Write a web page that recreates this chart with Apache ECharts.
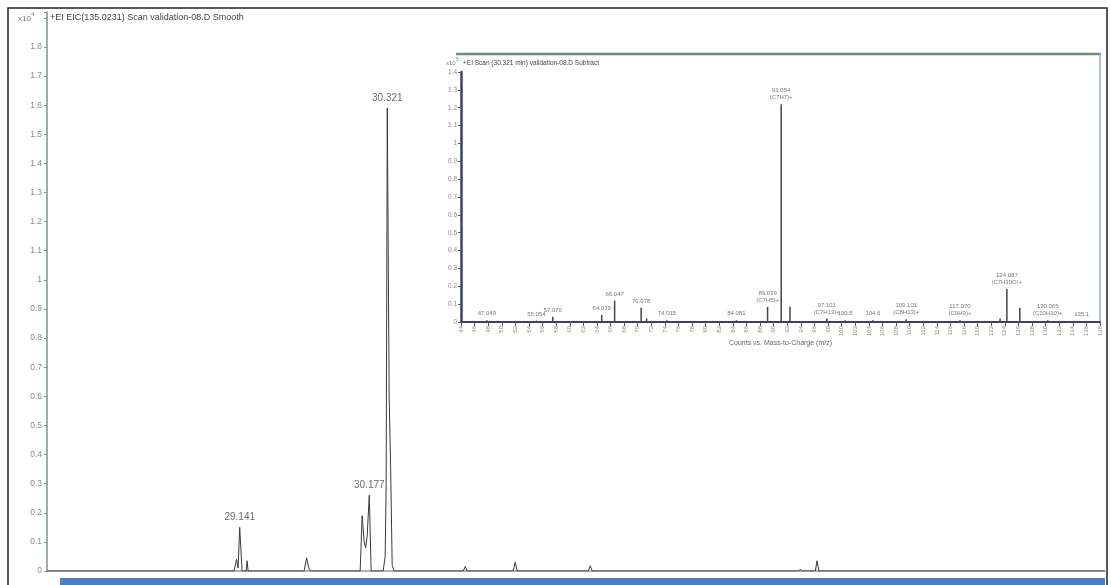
<!DOCTYPE html>
<html>
<head>
<meta charset="utf-8">
<title>EIC 135.0231</title>
<script src="https://cdn.jsdelivr.net/npm/echarts@6/dist/echarts.min.js"></script>
<style>
  html, body { margin: 0; padding: 0; background: #fff; }
  #chart { width: 1111px; height: 585px; }
</style>
</head>
<body>
<div id="chart"></div>
<script>
// chromatogram trace (time in min, counts x10^4)
const traceTime = [27.6, 29.096, 29.116, 29.128, 29.141, 29.16, 29.192, 29.2, 29.208,
  29.656, 29.676, 29.696, 29.712,
  30.104, 30.12, 30.136, 30.148, 30.16, 30.177, 30.192,
  30.288, 30.304, 30.312, 30.321, 30.336, 30.348, 30.36, 30.376,
  30.928, 30.944, 30.96, 31.328, 31.344, 31.36, 31.928, 31.944, 31.96,
  33.608, 33.624, 33.64, 33.744, 33.757, 33.772, 36.06];
const traceValue = [0, 0, 0.04, 0.01, 0.15, 0, 0, 0.035, 0,
  0, 0.045, 0.005, 0,
  0, 0.19, 0.1, 0.08, 0.12, 0.26, 0,
  0, 0.05, 0.3, 1.59, 0.6, 0.35, 0.02, 0,
  0, 0.015, 0, 0, 0.03, 0, 0, 0.018, 0,
  0, 0.005, 0, 0, 0.035, 0, 0];

// labelled peaks
const peakTime = [29.141, 30.177, 30.321];
const peakValue = [0.15, 0.26, 1.59];
const peakLabel = ['29.141', '30.177', '30.321'];

// inset spectrum (m/z, counts x10^5)
const specMz = [47.8, 55.1, 57.5, 64.7, 66.6, 70.5, 71.3, 74.3, 84.5, 89.1, 91.1, 92.4,
  97.8, 100.5, 104.6, 109.5, 117.4, 123.3, 124.3, 126.2, 130.3, 135.3];
const specValue = [0.01, 0.008, 0.03, 0.04, 0.12, 0.08, 0.02, 0.01, 0.01, 0.085, 1.22, 0.085,
  0.02, 0.01, 0.01, 0.015, 0.01, 0.02, 0.185, 0.08, 0.01, 0.005];
const specLabel = ['47.049', '55.054', '57.070', '64.039', '66.047', '70.078', '', '74.015',
  '84.081', '89.039\n(C7H5)+', '91.054\n(C7H7)+', '', '97.101\n(C7H13)+', '100.5', '104.6',
  '109.101\n(C8H13)+', '117.070\n(C9H9)+', '', '124.087\n(C7H10O)+', '', '130.065\n(C10H10)+', '135.1'];

const cond = "'Liberation Sans Narrow', 'Arial Narrow', 'Liberation Sans', sans-serif";
const dom = document.getElementById('chart');
const chart = echarts.init(dom);

const fmt = (top) => (v) => (v > top + 0.05 ? '' : String(+v.toFixed(1)));

chart.setOption({
  animation: false,
  backgroundColor: '#fff',
  grid: [
    { left: 47, right: 6, top: 12, bottom: 14 },
    { left: 461, right: 11, top: 72, bottom: 263 },
  ],
  xAxis: [
    {
      type: 'value', gridIndex: 0, min: 27.6, max: 36.06,
      axisLine: { lineStyle: { color: '#a88e9c', width: 1.5 } },
      axisTick: { show: false }, axisLabel: { show: false }, splitLine: { show: false },
    },
    {
      type: 'value', gridIndex: 1, min: 44, max: 138, interval: 2,
      axisLine: { lineStyle: { color: '#3c4266', width: 2 } },
      axisTick: { length: 4, lineStyle: { color: '#555' } },
      axisLabel: { fontSize: 6, color: '#888', rotate: 90, margin: 4, fontFamily: cond },
      splitLine: { show: false },
      name: 'Counts vs. Mass-to-Charge (m/z)', nameLocation: 'middle', nameGap: 17,
      nameTextStyle: { fontSize: 7, color: '#666', fontFamily: cond },
    },
  ],
  yAxis: [
    {
      type: 'value', gridIndex: 0, min: 0, max: 1.92, interval: 0.1,
      axisLine: { show: true, lineStyle: { color: '#7f928c', width: 1.5 } },
      axisTick: { show: true, length: 3, lineStyle: { color: '#7f928c' } },
      axisLabel: { fontSize: 8.5, color: '#8a8a8a', margin: 5, fontFamily: cond, formatter: fmt(1.8) },
      splitLine: { show: false },
    },
    {
      type: 'value', gridIndex: 1, min: 0, max: 1.4, interval: 0.1,
      axisLine: { show: true, lineStyle: { color: '#3c4266', width: 2.5 } },
      axisTick: { show: true, length: 3, lineStyle: { color: '#555' } },
      axisLabel: { fontSize: 6.5, color: '#8a8a8a', margin: 4, fontFamily: cond, formatter: fmt(1.4) },
      splitLine: { show: false },
    },
  ],
  graphic: [
    // outer frame
    { type: 'rect', shape: { x: 8, y: 8, width: 1099, height: 590 }, style: { fill: 'none', stroke: '#222', lineWidth: 1.5 }, z: 0 },
    // blue strip under main x axis
    { type: 'rect', shape: { x: 60, y: 578, width: 1045, height: 8 }, style: { fill: '#4f7cc2' }, z: 1 },
    { type: 'text', left: 18, top: 15, style: { text: 'x10', fontSize: 8, fill: '#777', fontFamily: cond } },
    { type: 'text', left: 31, top: 11, style: { text: '4', fontSize: 6, fill: '#777', fontFamily: cond } },
    { type: 'text', left: 50, top: 13, style: { text: '+EI EIC(135.0231) Scan validation-08.D Smooth', fontSize: 9, fill: '#444', fontFamily: cond } },
    // inset frame
    { type: 'line', shape: { x1: 456, y1: 54, x2: 1101, y2: 54 }, style: { stroke: '#6f8c8b', lineWidth: 2.5 } },
    { type: 'line', shape: { x1: 1100, y1: 54, x2: 1100, y2: 322 }, style: { stroke: '#9ea8d4', lineWidth: 1.5 } },
    { type: 'text', left: 446, top: 60, style: { text: 'x10', fontSize: 6, fill: '#777', fontFamily: cond } },
    { type: 'text', left: 456, top: 57, style: { text: '5', fontSize: 5, fill: '#777', fontFamily: cond } },
    { type: 'text', left: 463, top: 60, style: { text: '+EI Scan (30.321 min) validation-08.D Subtract', fontSize: 6.5, fill: '#444', fontFamily: cond } },
  ],
  series: [
    {
      type: 'line', xAxisIndex: 0, yAxisIndex: 0, symbol: 'none',
      lineStyle: { color: '#3a3a3a', width: 1 },
      data: traceTime.map((t, i) => [t, traceValue[i]]),
      z: 3,
    },
    {
      type: 'scatter', xAxisIndex: 0, yAxisIndex: 0, symbolSize: 0,
      data: peakTime.map((t, i) => ({ value: [t, peakValue[i]], label: { formatter: peakLabel[i] } })),
      label: { show: true, position: 'top', distance: 5, fontSize: 10, color: '#444', fontFamily: cond },
    },
    {
      type: 'bar', xAxisIndex: 1, yAxisIndex: 1, barWidth: 1.5,
      itemStyle: { color: '#444' },
      data: specMz.map((m, i) => [m, specValue[i]]),
    },
    {
      type: 'scatter', xAxisIndex: 1, yAxisIndex: 1, symbolSize: 0,
      data: specMz.map((m, i) => ({ value: [m, specValue[i]], label: { formatter: specLabel[i] } })),
      label: { show: true, position: 'top', distance: 3, fontSize: 6, lineHeight: 7, color: '#555', fontFamily: cond },
    },
  ],
});

window.addEventListener('resize', () => {
  chart.resize();
});
</script>
</body>
</html>
